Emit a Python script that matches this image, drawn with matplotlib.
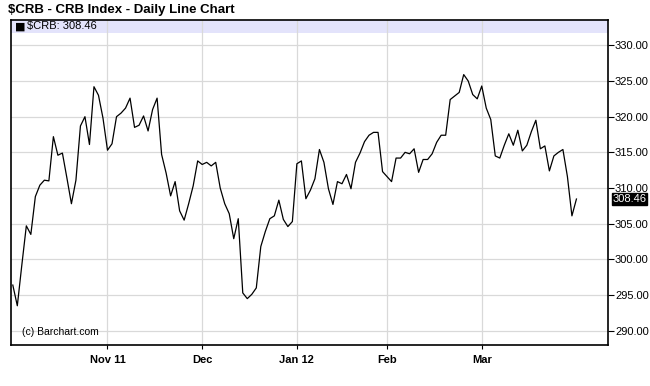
import matplotlib.pyplot as plt
import numpy as np
from matplotlib.patches import Rectangle

plt.rcParams["font.family"] = ["Liberation Sans", "DejaVu Sans"]

# daily CRB closes, Oct 3 2011 .. Mar 30 2012
closes = [
    296.4, 293.5, 299.2, 304.7, 303.5, 308.8, 310.4, 311.1, 311.0, 317.2,
    314.6, 314.9, 311.4, 307.8, 311.1, 318.7, 320.0, 316.1, 324.2, 323.0,
    319.8, 315.3, 316.2, 320.0, 320.5, 321.2, 322.6, 318.5, 318.8, 320.1,
    318.0, 321.0, 322.6, 314.7, 312.1, 308.9, 310.9, 306.8, 305.5, 307.8,
    310.3, 313.8, 313.3, 313.6, 313.1, 313.6, 310.0, 307.8, 306.4, 302.9,
    305.7, 295.3, 294.5, 295.1, 296.0, 301.8, 303.9, 305.7, 306.1, 308.3,
    305.6, 304.6, 305.3, 313.4, 313.8, 308.5, 309.7, 311.3, 315.4, 313.6,
    309.9, 307.7, 310.9, 310.6, 311.9, 309.9, 313.6, 314.9, 316.5, 317.4,
    317.8, 317.8, 312.3, 311.6, 310.9, 314.2, 314.2, 315.0, 314.8, 315.5,
    312.2, 314.0, 314.0, 314.8, 316.4, 317.4, 317.4, 322.4, 322.9, 323.4,
    325.9, 325.0, 323.1, 322.5, 324.3, 321.2, 319.6, 314.5, 314.2, 316.0,
    317.6, 316.0, 318.1, 315.2, 316.0, 317.9, 319.5, 315.5, 315.9, 312.4,
    314.5, 315.0, 315.4, 311.6, 306.1, 308.46,
]
month_labels = ["Nov 11", "Dec", "Jan 12", "Feb", "Mar"]
month_starts = [21, 42, 63, 83, 104]  # trading-day index of each month's first day
y_ticks = [290, 295, 300, 305, 310, 315, 320, 325, 330]

last = closes[-1]
x = np.arange(len(closes))

fig = plt.figure(figsize=(6.5, 3.86), dpi=100)
ax = fig.add_axes([11 / 650, 41 / 386, 597 / 650, 325 / 386])

ax.plot(x, closes, color="black", lw=0.9, zorder=3)

ax.set_xlim(-0.4, 132)
ax.set_ylim(288.0, 333.55)

ax.set_yticks(y_ticks)
ax.set_yticklabels([f"{v:.2f}" for v in y_ticks])
ax.yaxis.tick_right()
ax.tick_params(axis="y", direction="out", length=4, width=0.8, pad=1,
               labelsize=8, colors="black")
ax.set_xticks(month_starts)
ax.set_xticklabels(month_labels, fontweight="bold")
ax.tick_params(axis="x", direction="out", length=3, width=0.8, pad=4, labelsize=8)

ax.grid(True, color="#d9d9d9", lw=0.9, zorder=1)
ax.set_axisbelow(True)
for s in ax.spines.values():
    s.set_linewidth(1.2)
    s.set_color("black")

# legend band at top
ax.add_patch(Rectangle((0, 0.96), 1, 0.04, transform=ax.transAxes,
                       facecolor="#e3e3fb", edgecolor="none", zorder=0.5))
ax.text(0.006, 0.98, "\u25a0", transform=ax.transAxes, fontsize=8,
        va="center", ha="left", zorder=4, family="DejaVu Sans")
ax.text(0.026, 0.98, f"$CRB: {last:.2f}", transform=ax.transAxes, fontsize=8,
        va="center", ha="left", zorder=4)

# last value tag on the price axis
ax.annotate(f"{last:.2f}", xy=(1, last), xycoords=("axes fraction", "data"),
            xytext=(3, 0), textcoords="offset points", fontsize=8, color="white",
            va="center", ha="left",
            bbox=dict(boxstyle="square,pad=0.05", fc="black", ec="black"))

ax.text(0.018, 0.04, "(c) Barchart.com", transform=ax.transAxes, fontsize=7.5,
        va="center", ha="left")

fig.text(8 / 650, 1 - 10 / 386, "$CRB - CRB Index - Daily Line Chart",
         fontsize=9.5, fontweight="bold", va="center", ha="left")

fig.savefig("out.png", dpi=100)
